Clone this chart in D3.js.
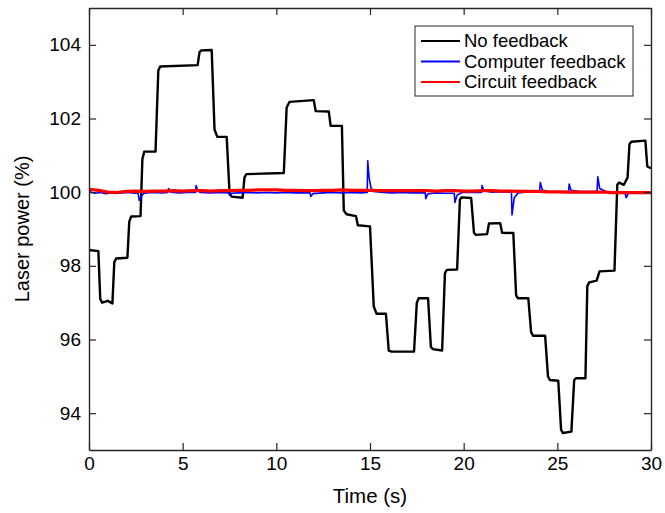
<!DOCTYPE html>
<html>
<head>
<meta charset="utf-8">
<script src="https://cdn.jsdelivr.net/npm/d3@7"></script>
<style>
    body { margin: 0; background: #fff; }
    text { font-family: "Liberation Sans", Arial, Helvetica, sans-serif; }
</style>
</head>
<body>
<div id="chart"></div>
<script>
// x ticks / y ticks
var xTicks = [0, 5, 10, 15, 20, 25, 30];
var yTicks = [94, 96, 98, 100, 102, 104];
var reeksen = ["No feedback", "Computer feedback", "Circuit feedback"];
var kleuren = ["#000000", "#0000ff", "#ff0000"];

// No feedback: [tijd (s), vermogen (%)]
var geenFeedback = [
    [0, 98.43], [0.5, 98.4], [0.6, 97.1], [0.7, 97.0], [1.0, 97.05], [1.25, 96.98], [1.35, 98.1], [1.45, 98.2],
    [2.05, 98.22], [2.15, 99.2], [2.25, 99.34], [2.75, 99.35], [2.85, 100.9], [2.95, 101.1], [3.55, 101.1],
    [3.7, 103.3], [3.8, 103.41], [5.8, 103.45], [5.9, 103.8], [6.0, 103.85], [6.55, 103.86], [6.7, 101.7],
    [6.85, 101.5], [7.35, 101.5], [7.5, 100.0], [7.6, 99.88], [8.2, 99.85], [8.3, 100.4], [8.4, 100.49],
    [10.4, 100.52], [10.55, 102.3], [10.7, 102.45], [12.0, 102.5], [12.1, 102.2], [12.8, 102.19], [12.9, 101.8],
    [13.5, 101.8], [13.6, 99.5], [13.75, 99.4], [14.25, 99.35], [14.35, 99.1], [15.0, 99.07], [15.2, 96.9],
    [15.35, 96.7], [15.85, 96.7], [16.0, 95.7], [16.15, 95.67], [17.35, 95.67], [17.5, 97.0], [17.6, 97.12],
    [18.1, 97.12], [18.25, 95.8], [18.35, 95.74], [18.85, 95.7], [19.0, 97.8], [19.1, 97.89], [19.65, 97.9],
    [19.8, 99.8], [19.9, 99.86], [20.4, 99.84], [20.55, 98.9], [20.65, 98.84], [21.25, 98.86], [21.35, 99.15],
    [21.95, 99.16], [22.05, 98.9], [22.65, 98.89], [22.8, 97.2], [22.9, 97.12], [23.45, 97.12], [23.6, 96.2],
    [23.7, 96.1], [24.35, 96.1], [24.5, 95.0], [24.6, 94.9], [25.05, 94.88], [25.2, 93.55], [25.3, 93.46],
    [25.75, 93.5], [25.9, 94.9], [26.0, 94.95], [26.5, 94.95], [26.6, 97.45], [26.7, 97.55], [27.1, 97.6],
    [27.25, 97.85], [28.05, 97.87], [28.2, 100.2], [28.3, 100.26], [28.55, 100.2], [28.75, 100.4], [28.85, 101.3],
    [28.95, 101.37], [29.7, 101.4], [29.8, 100.7], [30, 100.65]
];

// Computer feedback
var computerFeedback = [
    [0, 100.02], [0.3, 99.97], [0.6, 99.99], [0.9, 99.96], [1.2, 99.98], [1.6, 99.97], [2.0, 99.99], [2.5, 99.97],
    [2.62, 99.98], [2.68, 99.78], [2.8, 99.9], [2.95, 99.97], [3.4, 99.99], [3.9, 99.98], [4.2, 99.99], [4.25, 100.1],
    [4.35, 100.0], [4.8, 99.98], [5.3, 99.99], [5.68, 99.99], [5.72, 100.18], [5.8, 100.05], [5.95, 99.99],
    [6.5, 99.98], [7.0, 99.99], [7.45, 99.98], [7.5, 99.92], [7.6, 99.97], [8.0, 99.98], [8.5, 99.99], [9.0, 99.98],
    [9.5, 99.99], [10.0, 99.98], [10.5, 99.99], [11.0, 99.98], [11.5, 99.98], [11.8, 99.98], [11.84, 99.88],
    [11.95, 99.96], [12.5, 99.98], [13.0, 99.99], [13.5, 99.98], [14.0, 99.99], [14.5, 99.98], [14.85, 99.99],
    [14.88, 100.85], [14.95, 100.4], [15.05, 100.12], [15.2, 100.02], [15.7, 99.99], [16.2, 99.98], [16.7, 99.99],
    [17.2, 99.98], [17.95, 99.98], [17.98, 99.82], [18.08, 99.95], [18.5, 99.98], [19.0, 99.97], [19.5, 99.97],
    [19.53, 99.72], [19.65, 99.92], [19.9, 99.99], [20.4, 99.99], [20.95, 99.99], [20.98, 100.18], [21.08, 100.04],
    [21.5, 100.0], [22.0, 100.01], [22.55, 100.0], [22.58, 99.38], [22.7, 99.85], [22.9, 99.98], [23.5, 100.01],
    [24.05, 100.01], [24.09, 100.26], [24.2, 100.06], [24.6, 100.01], [25.1, 100.02], [25.6, 100.02], [25.63, 100.22],
    [25.73, 100.05], [26.2, 100.02], [26.7, 100.02], [27.12, 100.02], [27.16, 100.42], [27.26, 100.1], [27.6, 100.02],
    [28.1, 100.01], [28.6, 100.0], [28.68, 99.85], [28.8, 99.98], [29.3, 100.01], [30, 100.01]
];

// Circuit feedback
var circuitFeedback = [
    [0, 100.08], [0.5, 100.05], [1.0, 100.0], [1.5, 99.99], [2.0, 100.02], [2.5, 100.03], [3.0, 100.02], [3.5, 100.03],
    [4.0, 100.03], [4.5, 100.04], [5.0, 100.03], [5.5, 100.04], [6.0, 100.04], [6.5, 100.03], [7.0, 100.04],
    [7.5, 100.04], [8.0, 100.05], [8.5, 100.05], [9.0, 100.06], [9.5, 100.06], [10.0, 100.06], [10.5, 100.05],
    [11.0, 100.05], [11.5, 100.04], [12.0, 100.04], [12.5, 100.05], [13.0, 100.05], [13.5, 100.06], [14.0, 100.05],
    [14.5, 100.05], [15.0, 100.05], [15.5, 100.04], [16.0, 100.04], [16.5, 100.04], [17.0, 100.04], [17.5, 100.04],
    [18.0, 100.04], [18.5, 100.03], [19.0, 100.04], [19.5, 100.04], [20.0, 100.03], [20.5, 100.03], [21.0, 100.04],
    [21.5, 100.04], [22.0, 100.03], [22.5, 100.03], [23.0, 100.02], [23.5, 100.02], [24.0, 100.02], [24.5, 100.01],
    [25.0, 100.01], [25.5, 100.0], [26.0, 100.0], [26.5, 100.0], [27.0, 100.0], [27.5, 100.0], [28.0, 99.99],
    [28.5, 99.99], [29.0, 99.99], [29.5, 99.99], [30, 99.99]
];

var breedte = 665, hoogte = 513;
var marge = { left: 89, right: 14, top: 8, bottom: 63 };
var as = "#262626";

const svg = d3.select("#chart")
    .append("svg")
    .attr("width", breedte)
    .attr("height", hoogte);

var x = d3.scaleLinear().domain([0, 30]).range([marge.left, breedte - marge.right]);
var y = d3.scaleLinear().domain([93, 105]).range([hoogte - marge.bottom, marge.top]);

svg.append("clipPath").attr("id", "plotclip")
    .append("rect")
    .attr("x", marge.left).attr("y", marge.top)
    .attr("width", x.range()[1] - x.range()[0])
    .attr("height", y.range()[0] - y.range()[1]);

var lijn = d3.line()
    .x(function (d) { return x(d[0]); })
    .y(function (d) { return y(d[1]); });

var lijnen = svg.append("g").attr("clip-path", "url(#plotclip)");
var alleReeksen = [geenFeedback, computerFeedback, circuitFeedback];
var diktes = [2.4, 1.6, 3.2];
alleReeksen.forEach(function (r, i) {
    lijnen.append("path")
        .datum(r)
        .attr("fill", "none")
        .attr("stroke", kleuren[i])
        .attr("stroke-width", diktes[i])
        .attr("stroke-linejoin", "round")
        .attr("d", lijn);
});

// assen (ticks naar binnen, MATLAB-stijl)
function stijl(g) {
    g.selectAll("path.domain").attr("stroke", as).attr("stroke-width", 1.4);
    g.selectAll(".tick line").attr("stroke", as).attr("stroke-width", 1.2);
    g.selectAll(".tick text").attr("fill", "#000").style("font-size", "19px");
}

svg.append("g")
    .attr("transform", "translate(0," + y.range()[0] + ")")
    .call(d3.axisBottom(x).tickValues(xTicks).tickSizeInner(-7).tickSizeOuter(0).tickPadding(7))
    .call(stijl);
svg.append("g")
    .attr("transform", "translate(0," + y.range()[1] + ")")
    .call(d3.axisTop(x).tickValues(xTicks).tickSizeInner(-7).tickSizeOuter(0).tickFormat(""))
    .call(stijl);
svg.append("g")
    .attr("transform", "translate(" + x.range()[0] + ",0)")
    .call(d3.axisLeft(y).tickValues(yTicks).tickSizeInner(-7).tickSizeOuter(0).tickPadding(8))
    .call(stijl);
svg.append("g")
    .attr("transform", "translate(" + x.range()[1] + ",0)")
    .call(d3.axisRight(y).tickValues(yTicks).tickSizeInner(-7).tickSizeOuter(0).tickFormat(""))
    .call(stijl);

// astitels
svg.append("text")
    .attr("x", (x.range()[0] + x.range()[1]) / 2)
    .attr("y", 503)
    .attr("text-anchor", "middle")
    .style("font-size", "20.5px")
    .text("Time (s)");
svg.append("text")
    .attr("transform", "translate(29," + (y.range()[0] + y.range()[1]) / 2 + ") rotate(-90)")
    .attr("text-anchor", "middle")
    .style("font-size", "20px")
    .text("Laser power (%)");

// legenda
var leg = svg.append("g").attr("transform", "translate(415,26)");
leg.append("rect")
    .attr("width", 218).attr("height", 70)
    .attr("fill", "#fff")
    .attr("stroke", as)
    .attr("stroke-width", 1);
var items = leg.selectAll("g.item")
    .data(reeksen)
    .enter()
    .append("g")
    .attr("class", "item")
    .attr("transform", function (d, i) { return "translate(0," + (15 + i * 20.5) + ")"; });
items.append("line")
    .attr("x1", 6).attr("x2", 45)
    .attr("stroke", function (d, i) { return kleuren[i]; })
    .attr("stroke-width", 2);
items.append("text")
    .attr("x", 49)
    .attr("dy", "0.35em")
    .style("font-size", "18.5px")
    .text(function (d) { return d; });
</script>
</body>
</html>
